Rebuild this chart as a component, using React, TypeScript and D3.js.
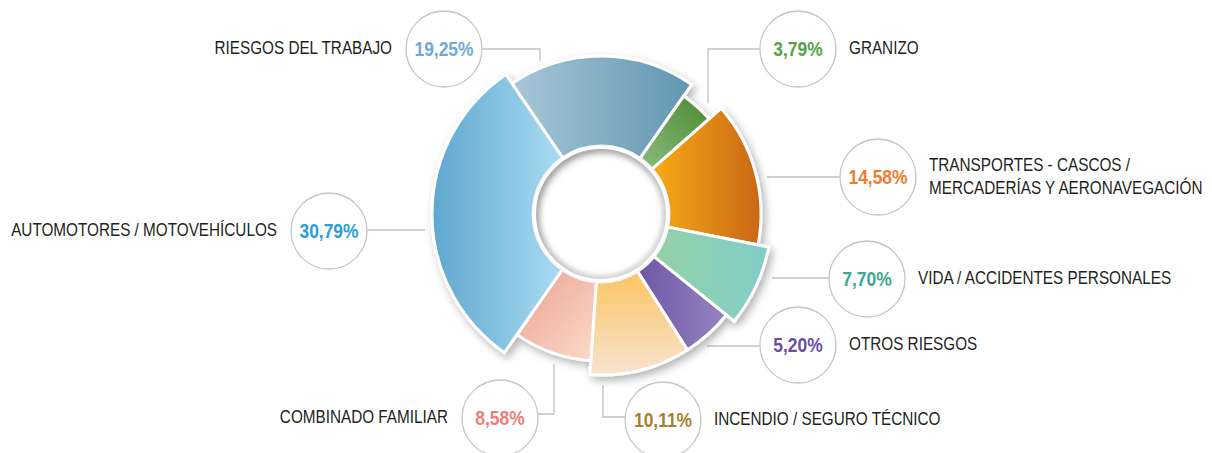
import React from "react";
import * as d3 from "d3";

// ---- data ----
const categories: string[][] = [
  ["RIESGOS DEL TRABAJO"],
  ["GRANIZO"],
  ["TRANSPORTES - CASCOS /", "MERCADERÍAS Y AERONAVEGACIÓN"],
  ["VIDA / ACCIDENTES PERSONALES"],
  ["OTROS RIESGOS"],
  ["INCENDIO / SEGURO TÉCNICO"],
  ["COMBINADO FAMILIAR"],
  ["AUTOMOTORES / MOTOVEHÍCULOS"],
];
const shares = [19.25, 3.79, 14.58, 7.7, 5.2, 10.11, 8.58, 30.79];

// ---- styles / layout ----
const valueColors = ["#6fa9d8", "#52a447", "#f17b2d", "#3aa891", "#6a4d9f", "#a8822a", "#ee7e79", "#2b9dd8"];
const sliceGradients = [
  { x1: 0, y1: 0, x2: 1, y2: 0, c1: "#a9c6d8", c2: "#5f96b0" },
  { x1: 0, y1: 1, x2: 1, y2: 0, c1: "#8bbb7d", c2: "#4a8a33" },
  { x1: 0, y1: 0, x2: 1, y2: 0, c1: "#f6ab18", c2: "#cb6616" },
  { x1: 0, y1: 0, x2: 1, y2: 0, c1: "#95d1a6", c2: "#80cdc9" },
  { x1: 0, y1: 0, x2: 1, y2: 0, c1: "#6f56a4", c2: "#9585c1" },
  { x1: 0, y1: 0, x2: 0, y2: 1, c1: "#fac563", c2: "#f7e3cf" },
  { x1: 0, y1: 0, x2: 1, y2: 1, c1: "#eca091", c2: "#fbdccb" },
  { x1: 0, y1: 0, x2: 1, y2: 0, c1: "#5fa7cf", c2: "#aadcf2" },
];
const outerRadii = [158, 144, 160, 171, 161, 161, 147, 169];
const bubbles = [
  { cx: 444, cy: 49, side: "left" },
  { cx: 798, cy: 49, side: "right" },
  { cx: 878, cy: 177, side: "right" },
  { cx: 867, cy: 279, side: "right" },
  { cx: 798, cy: 345, side: "right" },
  { cx: 663, cy: 420, side: "right" },
  { cx: 500, cy: 418, side: "left" },
  { cx: 329, cy: 231, side: "left" },
];
const leaders: [number, number][][] = [
  [[482, 49], [540, 49], [540, 61]],
  [[760, 49], [708, 49], [708, 103]],
  [[840, 177], [767, 177]],
  [[829, 278], [772, 278]],
  [[760, 346], [707, 346]],
  [[625, 417], [603, 417], [603, 385]],
  [[538, 414], [554, 414], [554, 364]],
  [[367, 230], [425, 230]],
];

const W = 1212;
const H = 453;
const CX = 601;
const CY = 214;
const INNER = 68;
const BUBBLE_R = 38;
const START = (-34.3 * Math.PI) / 180;
const SX_VAL = 0.83; // horizontal condensing of the sans font
const SX_LBL = 0.85;
const FONT = "'Liberation Sans', Arial, sans-serif";

const fmt = (v: number) => d3.format(".2f")(v).replace(".", ",") + "%";

export default function App() {
  const pie = d3
    .pie<number>()
    .sort(null)
    .value((d) => d)
    .startAngle(START)
    .endAngle(START + 2 * Math.PI);
  const arcs = pie(shares);
  const arcGen = d3.arc<any>();
  const line = d3.line<[number, number]>();

  return (
    <svg
      width={W}
      height={H}
      viewBox={`0 0 ${W} ${H}`}
      style={{ position: "absolute", left: 0, top: 0, background: "#fff" }}
    >
      <defs>
        {sliceGradients.map((g, i) => (
          <linearGradient key={i} id={`g${i}`} x1={g.x1} y1={g.y1} x2={g.x2} y2={g.y2}>
            <stop offset="0%" stopColor={g.c1} />
            <stop offset="100%" stopColor={g.c2} />
          </linearGradient>
        ))}
        <filter id="shadow" x="-20%" y="-20%" width="140%" height="140%">
          <feDropShadow dx="3" dy="4" stdDeviation="4" floodColor="#000" floodOpacity="0.3" />
        </filter>
        <filter id="blur" x="-20%" y="-20%" width="140%" height="140%">
          <feGaussianBlur stdDeviation="2.5" />
        </filter>
      </defs>

      {/* leader lines */}
      {leaders.map((pts, i) => (
        <path key={i} d={line(pts) || ""} fill="none" stroke="#c2c2c2" strokeWidth={1.3} />
      ))}

      {/* donut */}
      <g transform={`translate(${CX},${CY})`}>
        <g filter="url(#shadow)">
          {arcs.map((a, i) => (
            <path
              key={i}
              d={
                arcGen({
                  innerRadius: INNER,
                  outerRadius: outerRadii[i],
                  startAngle: a.startAngle,
                  endAngle: a.endAngle,
                }) || ""
              }
              fill={`url(#g${i})`}
              stroke="#fff"
              strokeWidth={3}
              strokeLinejoin="miter"
            />
          ))}
        </g>
        <circle r={INNER - 4} fill="none" stroke="#000" strokeOpacity={0.2} strokeWidth={5} filter="url(#blur)" />
        <circle r={INNER - 1.5} fill="none" stroke="#fff" strokeWidth={3} />
      </g>

      {/* bubbles & labels */}
      {bubbles.map((b, i) => {
        const lines = categories[i];
        const left = b.side === "left";
        const tx = left ? b.cx - BUBBLE_R - 14 : b.cx + BUBBLE_R + 13;
        const lh = 23;
        const y0 = b.cy - 1 - ((lines.length - 1) * lh) / 2;
        return (
          <g key={i}>
            <circle cx={b.cx} cy={b.cy} r={BUBBLE_R} fill="#fff" stroke="#c6c6c6" strokeWidth={1.3} />
            <g transform={`translate(${b.cx},${b.cy - 1}) scale(${SX_VAL},1)`}>
              <text
                dy="0.36em"
                textAnchor="middle"
                fontFamily={FONT}
                fontWeight="bold"
                fontSize={21}
                fill={valueColors[i]}
              >
                {fmt(shares[i])}
              </text>
            </g>
            {lines.map((l, j) => (
              <g key={j} transform={`translate(${tx},${y0 + j * lh}) scale(${SX_LBL},1)`}>
                <text
                  dy="0.36em"
                  textAnchor={left ? "end" : "start"}
                  fontFamily={FONT}
                  fontSize={18}
                  fill="#231f20"
                >
                  {l}
                </text>
              </g>
            ))}
          </g>
        );
      })}
    </svg>
  );
}
